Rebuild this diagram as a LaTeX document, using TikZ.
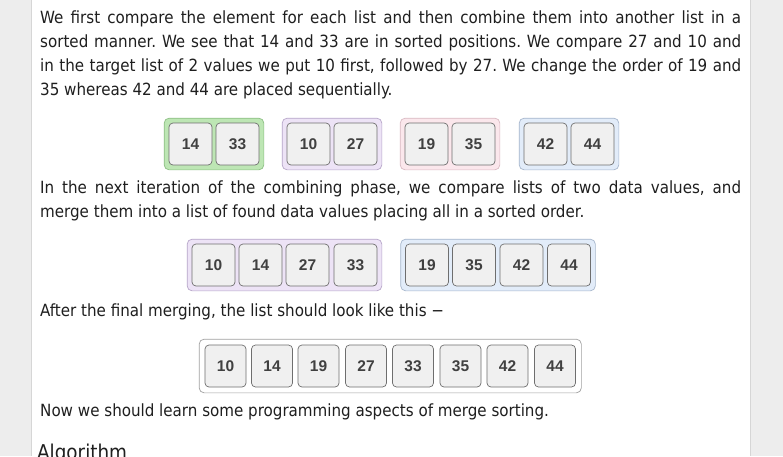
\documentclass[tikz,border=0pt]{standalone}
\usepackage{fontspec}
\setmainfont{DejaVu Sans Condensed}
\newfontfamily\cellfont{Liberation Sans}
\usetikzlibrary{fit,backgrounds}
\pgfdeclarelayer{bottom}
\pgfsetlayers{bottom,background,main}
\definecolor{pagegray}{HTML}{EDEDED}
\definecolor{edgegray}{HTML}{D6D6D6}
\definecolor{cellfill}{HTML}{F0F0F0}
\definecolor{cellborder}{HTML}{6E6E6E}
\definecolor{celltext}{HTML}{404040}
\definecolor{greenfill}{HTML}{BDE6B4}
\definecolor{greenedge}{HTML}{8CBF83}
\definecolor{purplefill}{HTML}{EDE3F6}
\definecolor{purpleedge}{HTML}{B7A6C9}
\definecolor{pinkfill}{HTML}{FBE7EC}
\definecolor{pinkedge}{HTML}{D9B9C2}
\definecolor{bluefill}{HTML}{E2ECF9}
\definecolor{blueedge}{HTML}{A6B6CC}
\definecolor{whiteedge}{HTML}{A0A0A0}
\frenchspacing
\begin{document}
\begin{tikzpicture}[x=1pt,y=-1pt,
  cell/.style={draw=cellborder, fill=cellfill, rounded corners=4pt, line width=0.7pt,
    minimum width=43pt, minimum height=42pt, inner sep=0pt, text=celltext,
    font=\cellfont\bfseries\fontsize{15.5}{15.5}\selectfont},
  cellc/.style={cell, minimum width=41pt},
  grp/.style={rounded corners=5pt, line width=0.7pt, inner sep=4.5pt},
  txt/.style={anchor=base west, inner sep=0pt, font=\fontsize{16.8}{19}\selectfont, text=black!88},
  jline/.style={txt}
]
\useasboundingbox (0,0) rectangle (783,456);
\begin{pgfonlayer}{bottom}
\fill[pagegray] (0,0) rectangle (783,456);
\fill[white] (32,0) rectangle (750,456);
\draw[edgegray, line width=0.8pt] (31.6,0) -- (31.6,456);
\draw[edgegray, line width=0.8pt] (750.4,0) -- (750.4,456);
\end{pgfonlayer}

% paragraph 1
\node[jline] (p1a) at (40,23) {\makebox[701pt][s]{We first compare the element for each list and then combine them into another list in a}};
\node[jline] (p1b) at (40,47) {\makebox[701pt][s]{sorted manner. We see that 14 and 33 are in sorted positions. We compare 27 and 10 and}};
\node[jline] (p1c) at (40,71) {\makebox[701pt][s]{in the target list of 2 values we put 10 first, followed by 27. We change the order of 19 and}};
\node[txt] (p1d) at (40,95) {35 whereas 42 and 44 are placed sequentially.};

% row 1
\node[cell] (a1) at (190.5,144) {14};
\node[cell] (a2) at (237.5,144) {33};
\node[cell] (b1) at (308.5,144) {10};
\node[cell] (b2) at (355.5,144) {27};
\node[cell] (c1) at (426.5,144) {19};
\node[cell] (c2) at (473.5,144) {35};
\node[cell] (d1) at (545.5,144) {42};
\node[cell] (d2) at (592.5,144) {44};
\begin{pgfonlayer}{background}
\node[grp, draw=greenedge, fill=greenfill, fit=(a1)(a2)] (ga) {};
\node[grp, draw=purpleedge, fill=purplefill, fit=(b1)(b2)] (gb) {};
\node[grp, draw=pinkedge, fill=pinkfill, fit=(c1)(c2)] (gc) {};
\node[grp, draw=blueedge, fill=bluefill, fit=(d1)(d2)] (gd) {};
\end{pgfonlayer}

% paragraph 2
\node[jline] (p2a) at (40,193) {\makebox[701pt][s]{In the next iteration of the combining phase, we compare lists of two data values, and}};
\node[txt] (p2b) at (40,217) {merge them into a list of found data values placing all in a sorted order.};

% row 2
\node[cell] (e1) at (213.5,265) {10};
\node[cell] (e2) at (260.5,265) {14};
\node[cell] (e3) at (307.5,265) {27};
\node[cell] (e4) at (355.5,265) {33};
\node[cell] (f1) at (427,265) {19};
\node[cell] (f2) at (474,265) {35};
\node[cell] (f3) at (521.5,265) {42};
\node[cell] (f4) at (569,265) {44};
\begin{pgfonlayer}{background}
\node[grp, draw=purpleedge, fill=purplefill, fit=(e1)(e4)] (ge) {};
\node[grp, draw=blueedge, fill=bluefill, fit=(f1)(f4)] (gf) {};
\end{pgfonlayer}

% paragraph 3
\node[txt] (p3) at (40,316) {After the final merging, the list should look like this −};

% row 3
\node[cellc] (h1) at (225.5,366) {10};
\node[cellc] (h2) at (272,366) {14};
\node[cellc] (h3) at (318.5,366) {19};
\node[cellc] (h4) at (366,366) {27};
\node[cellc] (h5) at (413,366) {33};
\node[cellc] (h6) at (460.5,366) {35};
\node[cellc] (h7) at (507.5,366) {42};
\node[cellc] (h8) at (555,366) {44};
\begin{pgfonlayer}{background}
\node[grp, inner sep=5.5pt, draw=whiteedge, fill=white, fit=(h1)(h8)] (gh) {};
\end{pgfonlayer}

% paragraph 4
\node[txt] (p4) at (40,416) {Now we should learn some programming aspects of merge sorting.};
\node[anchor=base west, inner sep=0pt, font=\fontsize{20.4}{22}\selectfont, text=black!88] (alg) at (37,459) {Algorithm};
\end{tikzpicture}
\end{document}
